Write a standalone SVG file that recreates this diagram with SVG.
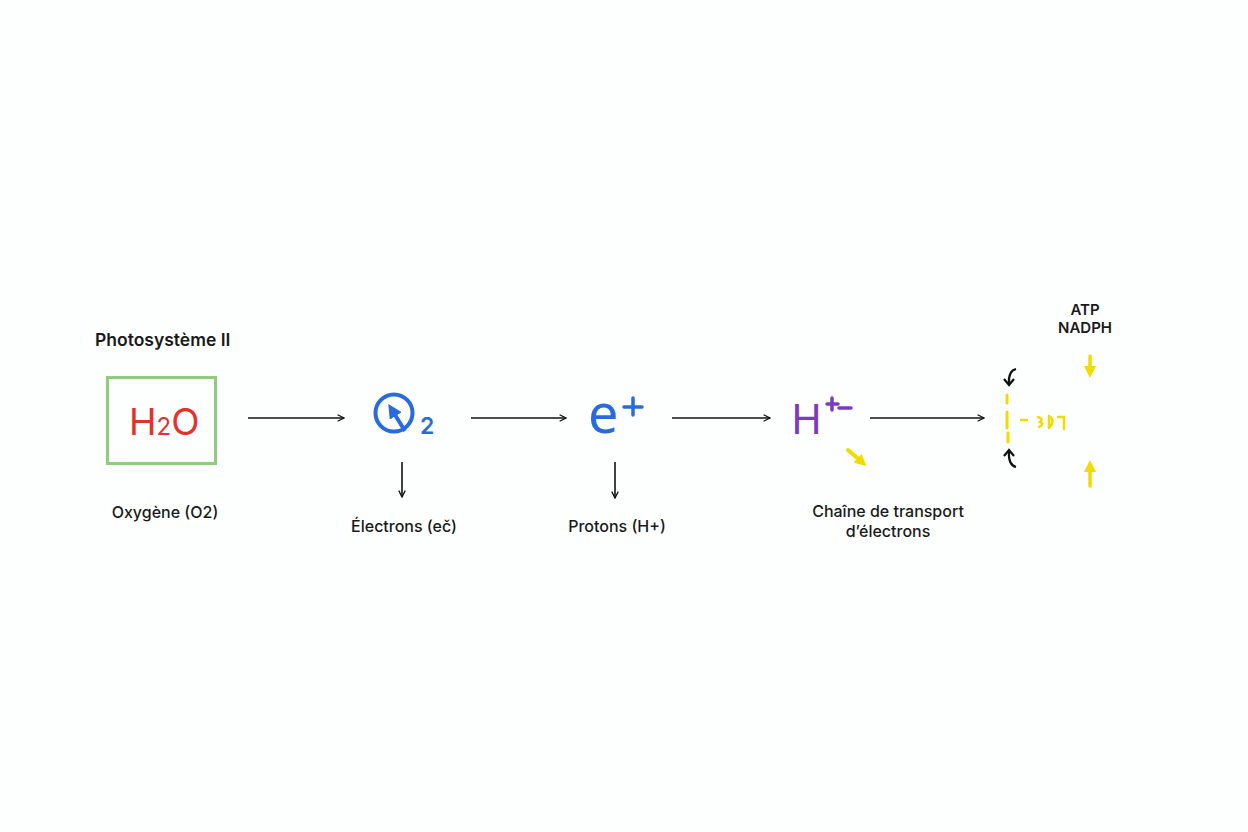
<svg xmlns="http://www.w3.org/2000/svg" width="1248" height="832" viewBox="0 0 1248 832">
<defs>
<style>
.lbl{font-family:Inter,"Liberation Sans",sans-serif;font-size:16px;font-weight:500;fill:#1a1a1a}
.bold{font-weight:600}
.conn{stroke:#111;stroke-width:1.6;fill:none}
.yel{stroke:#f2dc00;stroke-linecap:round;fill:none}
</style>
<marker id="open" viewBox="0 0 10 10" refX="9" refY="5" markerWidth="8" markerHeight="8" markerUnits="userSpaceOnUse" orient="auto">
<path d="M1,1 L9,5 L1,9" fill="none" stroke="#111" stroke-width="1.6"/>
</marker>
<marker id="yhead" viewBox="0 0 10 10" refX="5" refY="5" markerWidth="12" markerHeight="12" markerUnits="userSpaceOnUse" orient="auto">
<path d="M0,0 L10,5 L0,10 Z" fill="#f2dc00"/>
</marker>
<marker id="bhead" viewBox="0 0 10 10" refX="5" refY="5" markerWidth="14" markerHeight="14" markerUnits="userSpaceOnUse" orient="auto">
<path d="M0,0 L10,5 L0,10 Z" fill="#2a6ae0"/>
</marker>
</defs>
<rect width="1248" height="832" fill="#fdfefe"/>

<g id="connectors">
<line class="conn" x1="248" y1="418" x2="344" y2="418" marker-end="url(#open)"/>
<line class="conn" x1="471" y1="418" x2="566" y2="418" marker-end="url(#open)"/>
<line class="conn" x1="672" y1="418" x2="770" y2="418" marker-end="url(#open)"/>
<line class="conn" x1="870" y1="418" x2="984" y2="418" marker-end="url(#open)"/>
<line class="conn" x1="402" y1="462" x2="402" y2="497" marker-end="url(#open)"/>
<line class="conn" x1="615" y1="462" x2="615" y2="498" marker-end="url(#open)"/>
<line class="yel" stroke-width="4" x1="848" y1="450" x2="862" y2="462" marker-end="url(#yhead)"/>
</g>

<g id="photosysteme">
<text class="lbl bold" x="95" y="346" style="font-size:17.5px">Photosystème II</text>
</g>

<g id="h2o">
<rect x="107.5" y="377.5" width="108" height="86" fill="none" stroke="#8fcc80" stroke-width="3"/>
<text x="129" y="435" font-family="Inter,'Liberation Sans',sans-serif" font-size="37" fill="#e8302a">H<tspan font-size="24">2</tspan>O</text>
</g>

<g id="oxygene">
<text class="lbl" x="165" y="518" text-anchor="middle">Oxygène (O2)</text>
</g>

<g id="o2">
<circle cx="394" cy="413" r="18.5" fill="none" stroke="#2a6ae0" stroke-width="4"/>
<line x1="405" y1="431" x2="392" y2="410" stroke="#2a6ae0" stroke-width="4" marker-end="url(#bhead)"/>
<text x="420" y="434" font-family="Inter,'Liberation Sans',sans-serif" font-size="23" font-weight="600" fill="#2a6ae0">2</text>
</g>

<g id="electrons">
<text class="lbl" x="404" y="532" text-anchor="middle">Électrons (eč)</text>
</g>

<g id="eplus">
<text x="588" y="433" font-family="'Noto Sans',sans-serif" font-size="54" fill="#2a6ae0">e</text>
<path d="M624,407 H642 M633,398 V415" stroke="#2a6ae0" stroke-width="3.5" stroke-linecap="round"/>
</g>

<g id="protons">
<text class="lbl" x="617" y="532" text-anchor="middle">Protons (H+)</text>
</g>

<g id="hplus">
<text x="791" y="434" font-family="'Noto Sans',sans-serif" font-size="42" fill="#7a3bbf">H</text>
<path d="M827,404 H838 M832,398 V410 M839,408 H851" stroke="#7a3bbf" stroke-width="3.5" stroke-linecap="round" fill="none"/>
</g>

<g id="chaine">
<text class="lbl" x="888" y="517" text-anchor="middle">Chaîne de transport</text>
<text class="lbl" x="888" y="537" text-anchor="middle">d’électrons</text>
</g>

<g id="atp">
<text class="lbl bold" x="1085" y="315" text-anchor="middle" style="font-size:15px">ATP</text>
<text class="lbl bold" x="1085" y="333" text-anchor="middle" style="font-size:15px">NADPH</text>
</g>

<g id="synthase">
<path d="M1016,369 Q1008,371 1009,384" stroke="#111" stroke-width="2.2" fill="none"/>
<path d="M1004,379 L1009,385 L1014,379" stroke="#111" stroke-width="2.2" fill="none"/>
<path d="M1016,467 Q1008,465 1009,451" stroke="#111" stroke-width="2.2" fill="none"/>
<path d="M1004,456 L1009,450 L1014,456" stroke="#111" stroke-width="2.2" fill="none"/>
<path class="yel" stroke-width="3" d="M1007,395 V403 M1007,412 V428 M1008,433 V442"/>
<path class="yel" stroke-width="2.5" d="M1021,420 H1027 M1038,417 Q1044,419 1040,422 Q1045,424 1039,427 M1049,416 V428 M1049,416 Q1056,420 1049,428 M1058,417 L1064,417 L1064,429"/>
<line class="yel" stroke-width="3.5" x1="1090" y1="356" x2="1090" y2="372" marker-end="url(#yhead)"/>
<line class="yel" stroke-width="3.5" x1="1090" y1="486" x2="1090" y2="466" marker-end="url(#yhead)"/>
</g>
</svg>
